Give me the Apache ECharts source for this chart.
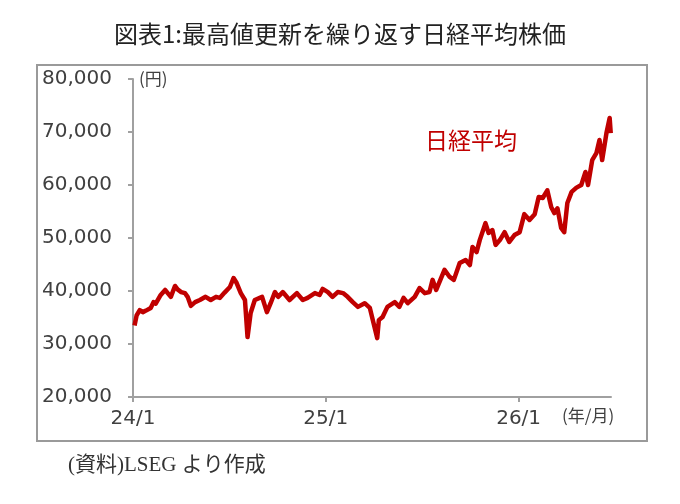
<!DOCTYPE html>
<html>
<head>
<meta charset="utf-8">
<script src="https://cdn.jsdelivr.net/npm/echarts@6/dist/echarts.min.js"></script>
<style>
html,body{margin:0;padding:0;background:#fff;}
#c{width:680px;height:504px;}
</style>
</head>
<body>
<div id="c"></div>
<script>
// ---- data ----
const dates = [
 '2024-01-04','2024-01-08','2024-01-14','2024-01-20','2024-01-26','2024-02-04','2024-02-09','2024-02-13','2024-02-22',
 '2024-03-01','2024-03-06','2024-03-12','2024-03-20','2024-03-25','2024-04-01','2024-04-08','2024-04-13',
 '2024-04-19','2024-04-27','2024-05-06','2024-05-17','2024-05-27','2024-06-06','2024-06-13','2024-06-22',
 '2024-07-02','2024-07-09','2024-07-15','2024-07-23','2024-07-31','2024-08-05','2024-08-11','2024-08-19',
 '2024-09-02','2024-09-11','2024-09-18','2024-09-26','2024-10-02','2024-10-11','2024-10-24','2024-11-07',
 '2024-11-18','2024-11-27','2024-12-11','2024-12-20','2024-12-26','2025-01-05','2025-01-14','2025-01-24',
 '2025-02-03','2025-02-11','2025-02-20','2025-03-01','2025-03-14','2025-03-24','2025-04-07','2025-04-10',
 '2025-04-17','2025-04-26','2025-05-10','2025-05-19','2025-05-27','2025-06-04','2025-06-17','2025-06-26',
 '2025-07-06','2025-07-15','2025-07-21','2025-07-28','2025-08-13','2025-08-23','2025-08-31','2025-09-11',
 '2025-09-22','2025-09-30','2025-10-05','2025-10-13','2025-10-19','2025-10-30','2025-11-05','2025-11-12',
 '2025-11-18','2025-11-26','2025-12-05','2025-12-14','2025-12-24','2026-01-03','2026-01-12','2026-01-22',
 '2026-02-01','2026-02-08','2026-02-15','2026-02-23','2026-03-02','2026-03-08','2026-03-14','2026-03-21',
 '2026-03-27','2026-04-02','2026-04-10','2026-04-19','2026-04-28','2026-05-06','2026-05-11','2026-05-19',
 '2026-05-27','2026-06-02','2026-06-07','2026-06-15','2026-06-21','2026-06-23'
];
const nikkei = [
 33500,35400,36400,36000,36300,36800,37900,37600,39250,
 40200,39600,38900,40950,40300,39800,39600,38900,
 37200,37900,38300,38900,38300,38900,38700,39700,
 40750,42450,41500,39600,38300,31300,35850,38300,
 38900,36000,37700,39800,38900,39800,38300,39600,
 38300,38700,39600,39250,40400,39800,38900,39800,
 39600,38900,37900,37000,37700,36800,31100,34500,
 35100,37000,37900,37000,38700,37700,38900,40550,
 39600,39800,42100,40200,44000,42650,42100,45300,
 45850,44900,48300,47350,49600,52800,50950,51500,
 48700,49600,51100,49250,50550,51100,54500,53400,
 54500,57750,57550,59000,55800,54700,55600,51900,
 51100,56600,58700,59500,60000,62450,60000,64700,
 66000,68500,64700,69800,72650,69800
];
const xTickLabels = ['24/1','25/1','26/1'];
const xTickDates = ['2024-01-01','2025-01-01','2026-01-01'];
const yTicks = [20000,30000,40000,50000,60000,70000,80000];

// months elapsed since 2024-01-01 (date -> axis position)
function monthIndex(d){
  const p = d.split('-').map(Number);
  const dim = new Date(p[0], p[1], 0).getDate();
  return (p[0]-2024)*12 + (p[1]-1) + (p[2]-1)/dim;
}
const seriesData = dates.map((d,i)=>[monthIndex(d), nikkei[i]]);
const xTickValues = xTickDates.map(monthIndex);
const labelMap = {};
xTickValues.forEach((v,i)=>{labelMap[v]=xTickLabels[i];});

const axisColor = '#a0a0a0';
const labelFont = {fontFamily:'DejaVu Sans', fontSize:20, color:'#404040'};

const chart = echarts.init(document.getElementById('c'), null, {renderer:'canvas'});
chart.setOption({
  animation:false,
  backgroundColor:'#fff',
  title:{
    text:'図表1:最高値更新を繰り返す日経平均株価',
    left:'center', top:17,
    textStyle:{fontFamily:'Noto Sans CJK JP', fontSize:24, fontWeight:'normal', color:'#222'}
  },
  grid:{left:133, right:69, top:79, bottom:107, containLabel:false},
  xAxis:{
    type:'value', min:0, max:29.75,
    axisLine:{show:true, lineStyle:{color:axisColor, width:2}},
    axisTick:{show:true, inside:false, length:5, customValues:xTickValues, lineStyle:{color:axisColor, width:2}},
    axisLabel:Object.assign({margin:12, customValues:xTickValues, formatter:v=>labelMap[v]||''}, labelFont),
    splitLine:{show:false}
  },
  yAxis:{
    type:'value', min:yTicks[0], max:yTicks[yTicks.length-1], interval:10000,
    axisLine:{show:true, lineStyle:{color:axisColor, width:2}},
    axisTick:{show:true, inside:false, length:5, lineStyle:{color:axisColor, width:2}},
    axisLabel:Object.assign({margin:21, formatter:v=>v.toLocaleString('en-US')}, labelFont),
    splitLine:{show:false}
  },
  series:[{
    type:'line', data:seriesData, showSymbol:false, symbol:'none',
    lineStyle:{color:'#c00000', width:4.5, join:'round'},
    itemStyle:{color:'#c00000'}
  }],
  graphic:[
    {type:'rect', shape:{x:37, y:65, width:610, height:376}, style:{fill:'none', stroke:'#9a9a9a', lineWidth:2}, silent:true},
    {type:'text', left:139, top:70, style:{text:'(円)', font:'17px "Noto Sans CJK JP"', fill:'#404040'}},
    {type:'text', left:562, top:407, style:{text:'(年/月)', font:'17px "Noto Sans CJK JP"', fill:'#404040'}},
    {type:'text', left:425, top:129, style:{text:'日経平均', font:'23px "Noto Sans CJK JP"', fill:'#c00000'}},
    {type:'text', left:68, top:455, style:{text:'(資料)LSEG より作成', font:'21px "Liberation Serif", "Noto Sans CJK JP"', fill:'#333'}}
  ]
});
</script>
</body>
</html>
